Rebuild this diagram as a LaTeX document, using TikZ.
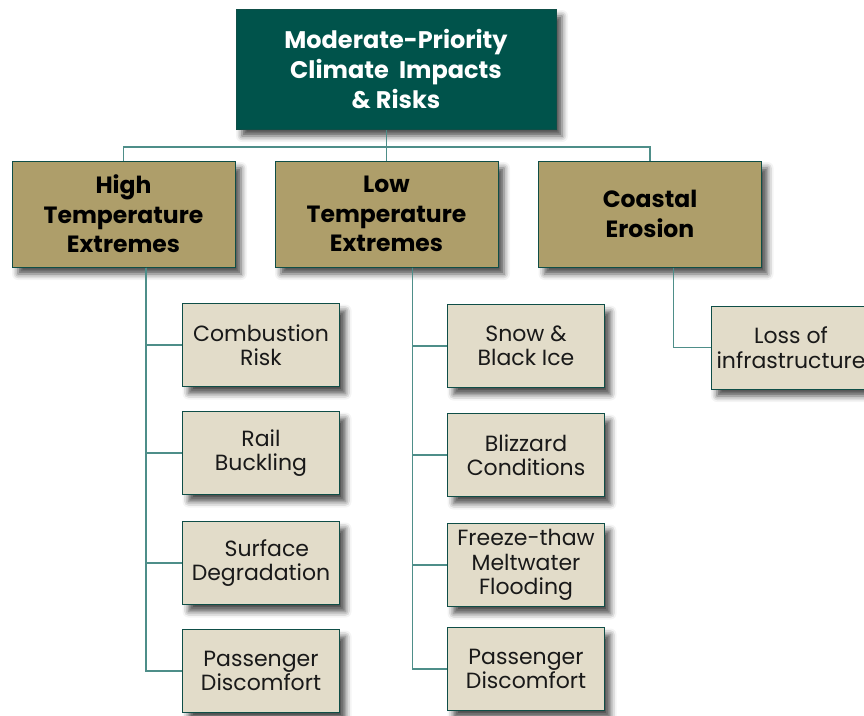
\documentclass[tikz,border=0pt]{standalone}
\usepackage{fontspec}
\setmainfont{Poppins}
\usetikzlibrary{calc,shadows.blur}
\definecolor{topgreen}{HTML}{00534B}
\definecolor{khaki}{HTML}{AE9E6A}
\definecolor{leafbg}{HTML}{E2DCC9}
\definecolor{edge}{HTML}{0F4E47}
\definecolor{linkcol}{HTML}{4E8E89}

\begin{document}
\begin{tikzpicture}[x=1pt, y=-1pt,
    box/.style={draw=edge, line width=1pt, align=center, inner sep=0pt,
      blur shadow={shadow xshift=6pt, shadow yshift=-7pt, shadow blur radius=6pt, shadow opacity=70}},
    topbox/.style={box, fill=topgreen, text=white, minimum width=320pt, minimum height=120pt,
      font=\bfseries\fontsize{24}{30}\selectfont},
    riskbox/.style={box, fill=khaki, text=black, minimum width=223pt, minimum height=106pt,
      font=\bfseries\fontsize{23.5}{29.5}\selectfont},
    leafbox/.style={box, fill=leafbg, text=black!90, minimum width=157pt, minimum height=83pt,
      font=\fontsize{22}{24.5}\selectfont},
    link/.style={draw=linkcol, line width=1.2pt}]
    \useasboundingbox (0,0) rectangle (864,715);

    % bus from the top box to the three groups
    \coordinate (bus) at (396,147);

    \node[topbox] (top) at (396,69) {Moderate-Priority\\Climate\ \ Impacts\\\& Risks};

    \node[riskbox] (high) at (123.5,214) {High\\Temperature\\Extremes};
    \node[riskbox] (low) at (386.5,214) {Low\\Temperature\\Extremes};
    \node[riskbox] (coast) at (650,214) {Coastal\\Erosion};

    \draw[link] (low.north) -- (low.north |- top.south);
    \draw[link] (high.north) |- (bus) -| (coast.north);
    \draw[link] (low.north) -- (low.north |- bus);

    % spines under each group
    \coordinate (hs) at ($(high.south west)!0.6!(high.south east)$);
    \coordinate (ls) at ($(low.south west)!0.615!(low.south east)$);
    \coordinate (cs) at ($(coast.south west)!0.605!(coast.south east)$);

    \node[leafbox] (hl1) at (261,345) {Combustion\\Risk};
    \node[leafbox] (hl2) at (261,453) {Rail\\Buckling};
    \node[leafbox] (hl3) at (261,563) {\ \ Surface\\Degradation};
    \node[leafbox] (hl4) at (261,671) {Passenger\\Discomfort};

    \node[leafbox] (ll1) at (526,346) {Snow \&\\Black Ice};
    \node[leafbox] (ll2) at (526,455) {Blizzard\\Conditions};
    \node[leafbox] (ll3) at (526,565) {Freeze-thaw\\Meltwater\\Flooding};
    \node[leafbox] (ll4) at (526,669) {Passenger\\Discomfort};

    \node[leafbox, minimum width=160pt] (cl1) at (791,347.5) {Loss of\\infrastructure};

    \foreach \n in {1,2,3,4} {
      \draw[link] (hs) |- (hl\n.west);
      \draw[link] (ls) |- (ll\n.west);
    }
    \draw[link] (cs) |- (cl1.west);

  \end{tikzpicture}
\end{document}
